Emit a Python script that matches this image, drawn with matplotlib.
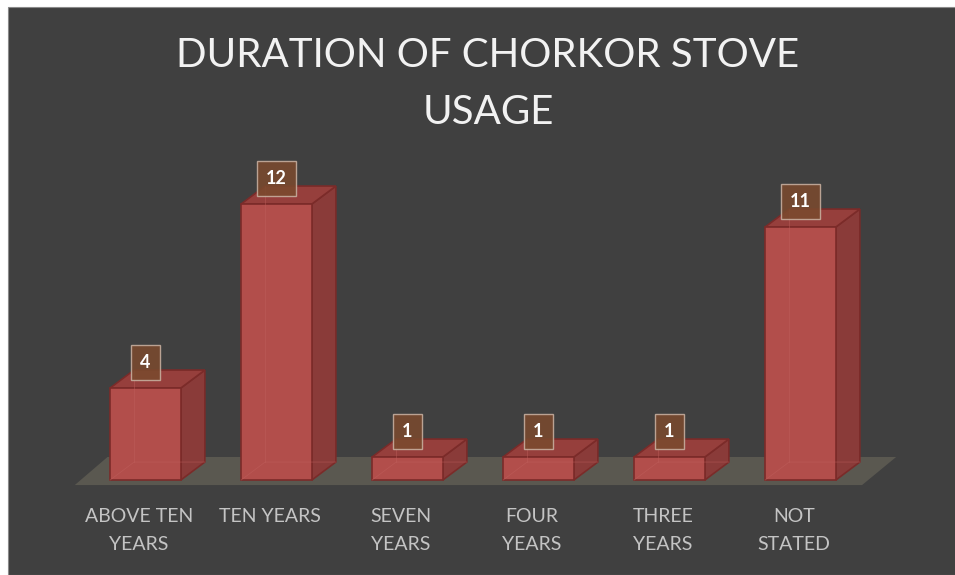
import matplotlib.pyplot as plt
from matplotlib.patches import Polygon, Rectangle

categories = ['ABOVE TEN\nYEARS', 'TEN YEARS', 'SEVEN\nYEARS', 'FOUR\nYEARS',
              'THREE\nYEARS', 'NOT\nSTATED']
values = [4, 12, 1, 1, 1, 11]
title = 'DURATION OF CHORKOR STOVE\nUSAGE'

BG = '#404040'
FRONT = '#b24e4b'
SIDE = '#8a3b39'
TOP = '#963f3c'
EDGE = '#7b2b29'
FLOOR = '#5a5850'

W, H = 955, 575
fig = plt.figure(figsize=(W / 100, H / 100), dpi=100, facecolor='white')
fig.patches.append(Rectangle((8 / W, 0), 1, (H - 7) / H, transform=fig.transFigure,
                             facecolor=BG, edgecolor='#8a8a8a', lw=0.8, zorder=-10))

# 1 category = 131 px, 1 unit = 23 px
ax = fig.add_axes([80 / W, 14.5 / H, 786 / W, 402.5 / H])
ax.set_xlim(-0.5, 5.5)
ax.set_ylim(-3.5, 14)
ax.axis('off')

bw = 0.54          # bar width (category units)
dx, dy = 0.183, 0.78  # 3D depth offset

# floor slab
n = len(values)
fx0, fx1 = -0.54, n - 1 + 0.47
ax.add_patch(Polygon([(fx0, -0.22), (fx1, -0.22), (fx1 + 0.26, 1.0), (fx0 + 0.25, 1.0)],
                     closed=True, facecolor=FLOOR, edgecolor='none', zorder=1, clip_on=False))

for i, v in enumerate(values):
    x0, x1 = i - bw / 2, i + bw / 2
    side = [(x1, 0), (x1 + dx, dy), (x1 + dx, v + dy), (x1, v)]
    top = [(x0, v), (x1, v), (x1 + dx, v + dy), (x0 + dx, v + dy)]
    front = [(x0, 0), (x1, 0), (x1, v), (x0, v)]
    ax.add_patch(Polygon(side, closed=True, facecolor=SIDE, edgecolor=EDGE, lw=1.2,
                         zorder=3, clip_on=False))
    ax.add_patch(Polygon(top, closed=True, facecolor=TOP, edgecolor=EDGE, lw=1.2,
                         zorder=3, clip_on=False))
    ax.add_patch(Polygon(front, closed=True, facecolor=FRONT, edgecolor=EDGE, lw=1.2,
                         zorder=4, clip_on=False))
    # faint hidden back edges
    ax.plot([x0, x0 + dx, x1 + dx], [0, dy, dy], color='#c0605c', lw=0.6, alpha=0.5, zorder=5)
    ax.plot([x0 + dx, x0 + dx], [dy, v + dy], color='#c0605c', lw=0.6, alpha=0.5, zorder=5)

    ax.text(i, v + 1.1, str(v), ha='center', va='center', color='white',
            fontsize=13, fontweight='bold', family='Lato', zorder=6,
            bbox=dict(boxstyle='square,pad=0.5', facecolor='#7a4a2e', alpha=0.88,
                      edgecolor='#c8b0a0', lw=1.0))

    ax.text(i - 0.05, -1.2, categories[i], ha='center', va='top', color='#c4c4c4',
            fontsize=14, family='Lato', linespacing=1.78)

fig.text(0.511, 0.935, title, ha='center', va='top', color='#f2f2f2',
         fontsize=29, family='Lato', linespacing=1.65)

fig.savefig('out.png', dpi=100, facecolor='white')
